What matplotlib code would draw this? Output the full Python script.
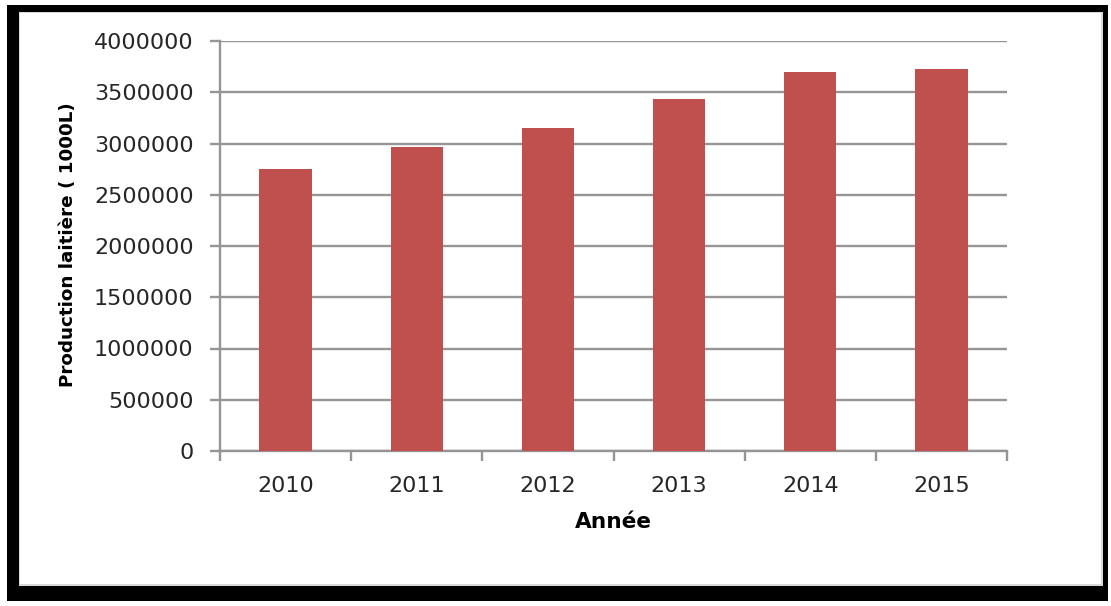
import matplotlib
matplotlib.use("Agg")
import matplotlib.pyplot as plt
from matplotlib.patches import Rectangle

years = ["2010", "2011", "2012", "2013", "2014", "2015"]
production = [2748000, 2969000, 3148000, 3434000, 3700000, 3724000]
y_ticks = [0, 500000, 1000000, 1500000, 2000000, 2500000, 3000000, 3500000, 4000000]

W, H = 1111, 606
fig = plt.figure(figsize=(W / 100, H / 100), dpi=100)
fig.patch.set_facecolor("white")

def px_rect(x0, y0, x1, y1, **kw):
    # rectangle given in pixel coordinates with origin at top-left
    return Rectangle((x0 / W, 1 - y1 / H), (x1 - x0) / W, (y1 - y0) / H,
                     transform=fig.transFigure, **kw)

# black frame with inner white panel
fig.patches.append(px_rect(7, 5, 1108, 601, facecolor="black", edgecolor="none", zorder=-3))
fig.patches.append(px_rect(19, 12, 1103, 586, facecolor="#d9d9d9", edgecolor="none", zorder=-2))
fig.patches.append(px_rect(20, 13, 1101, 584, facecolor="white", edgecolor="none", zorder=-1))

ax = fig.add_axes([220 / W, 1 - 451 / H, (1007 - 220) / W, (451 - 41) / H])
ax.set_zorder(2)
ax.set_facecolor("none")

x = list(range(len(years)))
ax.bar(x, production, width=0.4, color="#C0504D", zorder=3)

ax.set_xlim(-0.5, len(years) - 0.5)
ax.set_ylim(0, 4000000)
ax.set_yticks(y_ticks)
ax.set_yticklabels([str(v) for v in y_ticks])
ax.set_xticks(x)
ax.set_xticklabels(years)
ax.set_xticks([i - 0.5 for i in range(len(years) + 1)], minor=True)

grid_color = "#959595"
ax.yaxis.grid(True, color=grid_color, linewidth=1.7, zorder=1)
ax.set_axisbelow(True)
for side in ["top", "right"]:
    ax.spines[side].set_visible(False)
for side in ["left", "bottom"]:
    ax.spines[side].set_color(grid_color)
    ax.spines[side].set_linewidth(1.7)

font = "DejaVu Sans"
ax.tick_params(axis="y", which="major", direction="out", length=7, width=1.7,
               color=grid_color, labelsize=16, labelcolor="#262626", pad=12)
ax.tick_params(axis="x", which="major", length=0, labelsize=16,
               labelcolor="#262626", pad=18)
ax.tick_params(axis="x", which="minor", direction="out", length=7, width=1.7,
               color=grid_color)
for lbl in ax.get_xticklabels() + ax.get_yticklabels():
    lbl.set_fontfamily(font)

fig.text(68 / W, 1 - 245 / H, "Production laitière ( 1000L)", rotation=90,
         ha="center", va="center", fontsize=13.2, fontweight="bold",
         fontfamily=font, color="black")
fig.text(613 / W, 1 - 522 / H, "Année", ha="center", va="center",
         fontsize=15.6, fontweight="bold", fontfamily=font, color="black")

fig.savefig("out.png", dpi=100)
